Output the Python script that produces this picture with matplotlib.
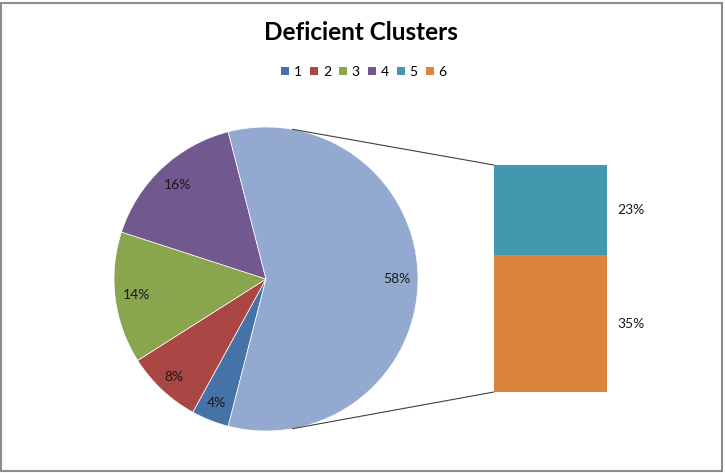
import numpy as np
import matplotlib
matplotlib.use('Agg')
import matplotlib.pyplot as plt
from matplotlib.patches import ConnectionPatch, Rectangle, Patch

# data
pie_names = ['1', '2', '3', '4', 'Other']
pie_values = [4, 8, 14, 16, 58]
bar_names = ['6', '5']
bar_values = [35, 23]
legend_names = ['1', '2', '3', '4', '5', '6']

colors = {'1': '#4572a7', '2': '#aa4643', '3': '#89a54e', '4': '#71588f',
          '5': '#4198af', '6': '#db843d', 'Other': '#93a9cf'}

plt.rcParams['font.family'] = ['Lato', 'DejaVu Sans']

W, H = 725, 473
fig = plt.figure(figsize=(W / 100, H / 100), dpi=100)
fig.patch.set_facecolor('white')

# outer border like the Excel chart area
fig.patches.append(Rectangle((1 / W, 2 / H), 721 / W, 468 / H, transform=fig.transFigure,
                             fill=False, edgecolor='#8c8c8c', linewidth=1.5))

# pie axes (center 266,279 radius 152 in pixels)
cx, cy, r = 266, 279, 152
ax1 = fig.add_axes([(cx - r) / W, (H - cy - r) / H, 2 * r / W, 2 * r / H])
other_share = pie_values[-1] / sum(pie_values) * 360
start = -other_share / 2
# 1 at the bottom going clockwise, other on the right
wedges, texts = ax1.pie(pie_values, colors=[colors[n] for n in pie_names],
                        startangle=start, counterclock=False,
                        wedgeprops=dict(linewidth=0.5, edgecolor='white'))
for w, v, d in zip(wedges, pie_values, [0.88, 0.88, 0.86, 0.85, 0.86]):
    ang = np.deg2rad((w.theta1 + w.theta2) / 2)
    ax1.text(d * np.cos(ang), d * np.sin(ang), f'{v}%', ha='center', va='center',
             fontsize=10, color='#1a1a1a')
ax1.set_xlim(-1, 1)
ax1.set_ylim(-1, 1)
ax1.axis('off')

# bar axes
bx0, bx1, by0, by1 = 494, 607, 165, 392
ax2 = fig.add_axes([bx0 / W, (H - by1) / H, (bx1 - bx0) / W, (by1 - by0) / H])
bottom = 0
for n, v in zip(bar_names, bar_values):
    ax2.bar(0.5, v, width=1, bottom=bottom, color=colors[n], edgecolor='none')
    ax2.text(1.09, bottom + v / 2, f'{v}%', ha='left', va='center', fontsize=10,
             color='#1a1a1a')
    bottom += v
ax2.set_xlim(0, 1)
ax2.set_ylim(0, sum(bar_values))
ax2.axis('off')

# connector lines
for sgn, yb in [(1, sum(bar_values)), (-1, 0)]:
    ang = np.deg2rad(80 * sgn)
    con = ConnectionPatch(xyA=(np.cos(ang), np.sin(ang)), coordsA=ax1.transData,
                          xyB=(0, yb), coordsB=ax2.transData,
                          color='#404040', linewidth=0.8)
    fig.add_artist(con)

fig.text(361 / W, 1 - 32 / H, 'Deficient Clusters', ha='center', va='center',
         fontsize=17.5, fontweight='bold')

handles = [Patch(facecolor=colors[n], edgecolor='none') for n in legend_names]
fig.legend(handles, legend_names, loc='center', bbox_to_anchor=(364 / W, 1 - 72 / H),
           ncol=6, frameon=False, fontsize=10, handlelength=0.55, handleheight=0.55,
           handletextpad=0.35, columnspacing=0.6)

fig.savefig('out.png', dpi=100)
